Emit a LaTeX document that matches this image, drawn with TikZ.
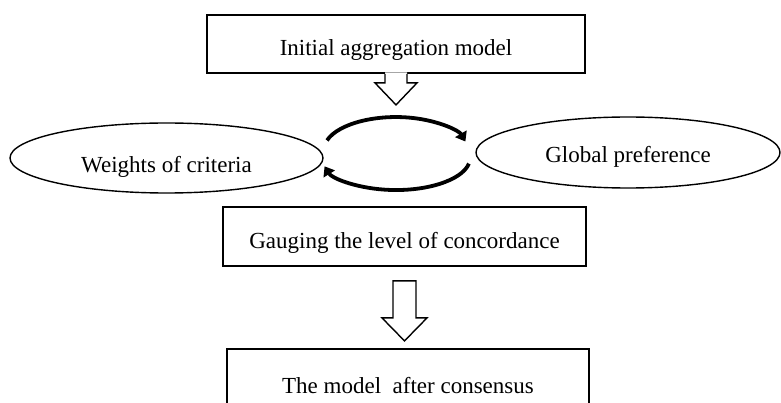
\documentclass[tikz,border=0pt]{standalone}
\usepackage{fontspec}
\setmainfont{Liberation Serif}
\usetikzlibrary{arrows.meta,shapes.geometric,calc}
\begin{document}
\begin{tikzpicture}[x=1pt,y=-1pt,
  txt/.style={font=\fontsize{23}{27}\selectfont, text depth=0pt, inner sep=0pt},
  box/.style={txt, draw, line width=1.8pt, rectangle},
  oval/.style={txt, draw, line width=1.4pt, ellipse},
  blockarrow/.style={draw, line width=1.4pt, line join=miter},
  cyc/.style={line width=3.8pt, -{Triangle[length=9pt,width=13pt]}}]
\useasboundingbox (0,0) rectangle (781,403);
\clip (0,0) rectangle (781,403);
% boxes and ellipses
\node[box, minimum width=378pt, minimum height=58pt, text height=24pt] (init) at (396,44) {Initial aggregation model};
\node[oval, minimum width=313pt, minimum height=70pt, text height=30pt] (weights) at (166.5,158) {Weights of criteria};
\node[oval, minimum width=304pt, minimum height=71pt, text height=21pt] (global) at (628,152.5) {Global preference};
\node[box, minimum width=363pt, minimum height=59pt, text height=25pt] (gauge) at (404.5,236.5) {Gauging the level of concordance};
\node[box, minimum width=362pt, minimum height=71pt, text height=17pt] (final) at (408,384.5) {The model\ \ after consensus};
% block arrow below the first box
\fill[white] (init.south) ++(-11,-1.5) -- ++(0,10.5) -- ++(-10,0) -- ++(21,22) -- ++(21,-22) -- ++(-10,0) -- ++(0,-10.5) -- cycle;
\draw[blockarrow] (init.south) ++(-11,0) -- ++(0,9) -- ++(-10,0) -- ++(21,22) -- ++(21,-22) -- ++(-10,0) -- ++(0,-9);
% block arrow between gauge and final
\draw[blockarrow] ($(gauge.south)+(-11.5,14)$) -- ++(0,37) -- ++(-11,0) -- ++(22.5,23) -- ++(22.5,-23) -- ++(-11,0) -- ++(0,-37) -- cycle;
% cycle arrows between the ellipses
\coordinate (cycA) at (327,140.4);
\coordinate (cycB) at (468.9,163.6);
\draw[cyc] (cycA) arc[start angle=197, end angle=345, x radius=72, y radius=33];
\draw[cyc] (cycB) arc[start angle=10, end angle=165, x radius=74, y radius=32];
\end{tikzpicture}
\end{document}
